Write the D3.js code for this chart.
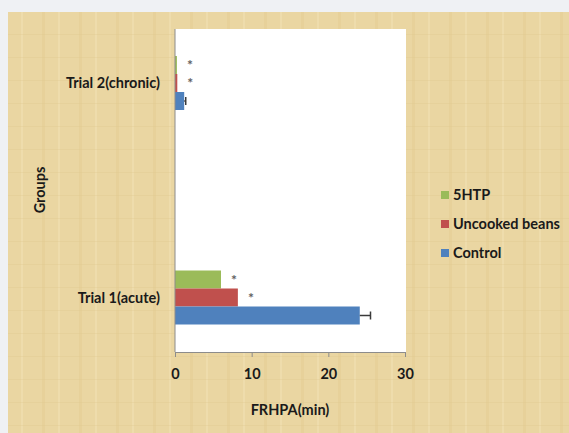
<!DOCTYPE html>
<html>
<head>
<meta charset="utf-8">
<script src="https://cdn.jsdelivr.net/npm/d3@7"></script>
<style>
body { margin: 0; background: #eff1f4; }
svg { display: block; font-family: Lato, "Open Sans", sans-serif; }
</style>
</head>
<body>
<div id="chart"></div>
<script>
//DATA
var categories = ["Trial 2(chronic)", "Trial 1(acute)"];
var seriesNames = ["5HTP", "Uncooked beans", "Control"];
var htpValues = [0.25, 6.0];
var beansValues = [0.3, 8.2];
var controlValues = [1.2, 24.1];
var controlErrors = [0.2, 1.4];
var significant = { "5HTP": [true, true], "Uncooked beans": [true, true], "Control": [false, false] };
var xTicks = [0, 10, 20, 30];

var colors = { "5HTP": "#9bbb59", "Uncooked beans": "#c0504d", "Control": "#4f81bd" };

var rows = [];
categories.forEach(function(c, i) {
  rows.push({ cat: c, series: "5HTP", value: htpValues[i], err: 0, star: significant["5HTP"][i] });
  rows.push({ cat: c, series: "Uncooked beans", value: beansValues[i], err: 0, star: significant["Uncooked beans"][i] });
  rows.push({ cat: c, series: "Control", value: controlValues[i], err: controlErrors[i], star: significant["Control"][i] });
});

var W = 569, H = 433;
var plot = { left: 175, right: 406, top: 29, bottom: 352 };
var fs = 14.5;

var svg = d3.select("#chart").append("svg")
  .attr("width", W)
  .attr("height", H);

//BACKGROUND (parchment)
var defs = svg.append("defs");
var pat = defs.append("pattern")
  .attr("id", "paper")
  .attr("width", 37).attr("height", 23)
  .attr("patternUnits", "userSpaceOnUse");
pat.append("rect").attr("width", 37).attr("height", 23).attr("fill", "#ead6a2");
pat.append("rect").attr("x", 5).attr("width", 3).attr("height", 23).attr("fill", "#e3cb92").attr("opacity", 0.5);
pat.append("rect").attr("x", 21).attr("width", 2).attr("height", 23).attr("fill", "#f0dfb3").attr("opacity", 0.6);
pat.append("rect").attr("y", 11).attr("width", 37).attr("height", 1).attr("fill", "#e0c98f").attr("opacity", 0.35);

svg.append("rect")
  .attr("x", 8).attr("y", 12)
  .attr("width", W - 8).attr("height", H - 12)
  .attr("fill", "url(#paper)");

svg.append("rect")
  .attr("x", plot.left).attr("y", plot.top)
  .attr("width", plot.right - plot.left).attr("height", plot.bottom - plot.top)
  .attr("fill", "#ffffff");

//SCALES
var xScale = d3.scaleLinear()
  .domain([0, 30])
  .range([plot.left, plot.right - 1]);

var yCat = d3.scalePoint()
  .domain(categories)
  .range([83, 297.5]);

var yInner = d3.scaleBand()
  .domain(seriesNames)
  .range([-27, 27]);

//BARS
svg.append("g").selectAll("rect")
  .data(rows)
  .enter().append("rect")
  .attr("x", xScale(0))
  .attr("y", function(d) { return yCat(d.cat) + yInner(d.series); })
  .attr("width", function(d) { return xScale(d.value) - xScale(0); })
  .attr("height", yInner.bandwidth())
  .attr("fill", function(d) { return colors[d.series]; });

//ERROR BARS (plus side only)
var errRows = rows.filter(function(d) { return d.err > 0; });
var eb = svg.append("g").attr("stroke", "#3a3a3a").attr("stroke-width", 1.5);
eb.selectAll("line.h")
  .data(errRows)
  .enter().append("line")
  .attr("x1", function(d) { return xScale(d.value); })
  .attr("x2", function(d) { return xScale(d.value + d.err); })
  .attr("y1", function(d) { return yCat(d.cat) + yInner(d.series) + yInner.bandwidth() / 2; })
  .attr("y2", function(d) { return yCat(d.cat) + yInner(d.series) + yInner.bandwidth() / 2; });
eb.selectAll("line.cap")
  .data(errRows)
  .enter().append("line")
  .attr("x1", function(d) { return xScale(d.value + d.err); })
  .attr("x2", function(d) { return xScale(d.value + d.err); })
  .attr("y1", function(d) { return yCat(d.cat) + yInner(d.series) + yInner.bandwidth() / 2 - 4; })
  .attr("y2", function(d) { return yCat(d.cat) + yInner(d.series) + yInner.bandwidth() / 2 + 4; });

//ASTERISKS
svg.append("g").selectAll("text")
  .data(rows.filter(function(d) { return d.star; }))
  .enter().append("text")
  .attr("x", function(d) { return xScale(d.value) + 13; })
  .attr("y", function(d) { return yCat(d.cat) + yInner(d.series) + yInner.bandwidth() / 2 + 5; })
  .attr("text-anchor", "middle")
  .attr("font-size", 14)
  .attr("font-weight", "bold")
  .attr("fill", "#5f5f5f")
  .text("*");

//AXES
var xAxis = d3.axisBottom(xScale)
  .tickValues(xTicks)
  .tickSize(5)
  .tickPadding(12);

var gx = svg.append("g")
  .attr("transform", "translate(0," + plot.bottom + ")")
  .call(xAxis);
gx.select(".domain").attr("stroke", "#8c8c8c");
gx.selectAll(".tick line").attr("stroke", "#8c8c8c");
gx.selectAll("text")
  .attr("font-size", fs)
  .attr("font-weight", "bold")
  .attr("fill", "#1a1a1a")
  .attr("font-family", "Lato, sans-serif");

svg.append("line")
  .attr("x1", plot.left).attr("x2", plot.left)
  .attr("y1", plot.top).attr("y2", plot.bottom)
  .attr("stroke", "#8c8c8c");

//CATEGORY LABELS
svg.append("g").selectAll("text")
  .data(categories)
  .enter().append("text")
  .attr("x", 160)
  .attr("y", function(d) { return yCat(d); })
  .attr("dy", "0.35em")
  .attr("text-anchor", "end")
  .attr("font-size", fs)
  .attr("font-weight", "bold")
  .attr("fill", "#1a1a1a")
  .text(function(d) { return d; });

//AXIS TITLES
svg.append("text")
  .attr("x", 290).attr("y", 410)
  .attr("dy", "0.35em")
  .attr("text-anchor", "middle")
  .attr("font-size", fs)
  .attr("font-weight", "bold")
  .attr("fill", "#1a1a1a")
  .text("FRHPA(min)");

svg.append("text")
  .attr("transform", "translate(40,190) rotate(-90)")
  .attr("dy", "0.35em")
  .attr("text-anchor", "middle")
  .attr("font-size", fs)
  .attr("font-weight", "bold")
  .attr("fill", "#1a1a1a")
  .text("Groups");

//LEGEND
var legend = svg.append("g").selectAll("g")
  .data(seriesNames)
  .enter().append("g")
  .attr("transform", function(d, i) { return "translate(441," + (195 + i * 29) + ")"; });
legend.append("rect")
  .attr("x", 0).attr("y", -4)
  .attr("width", 8).attr("height", 8)
  .attr("fill", function(d) { return colors[d]; });
legend.append("text")
  .attr("x", 12)
  .attr("dy", "0.35em")
  .attr("font-size", fs)
  .attr("font-weight", "bold")
  .attr("fill", "#1a1a1a")
  .text(function(d) { return d; });
</script>
</body>
</html>
